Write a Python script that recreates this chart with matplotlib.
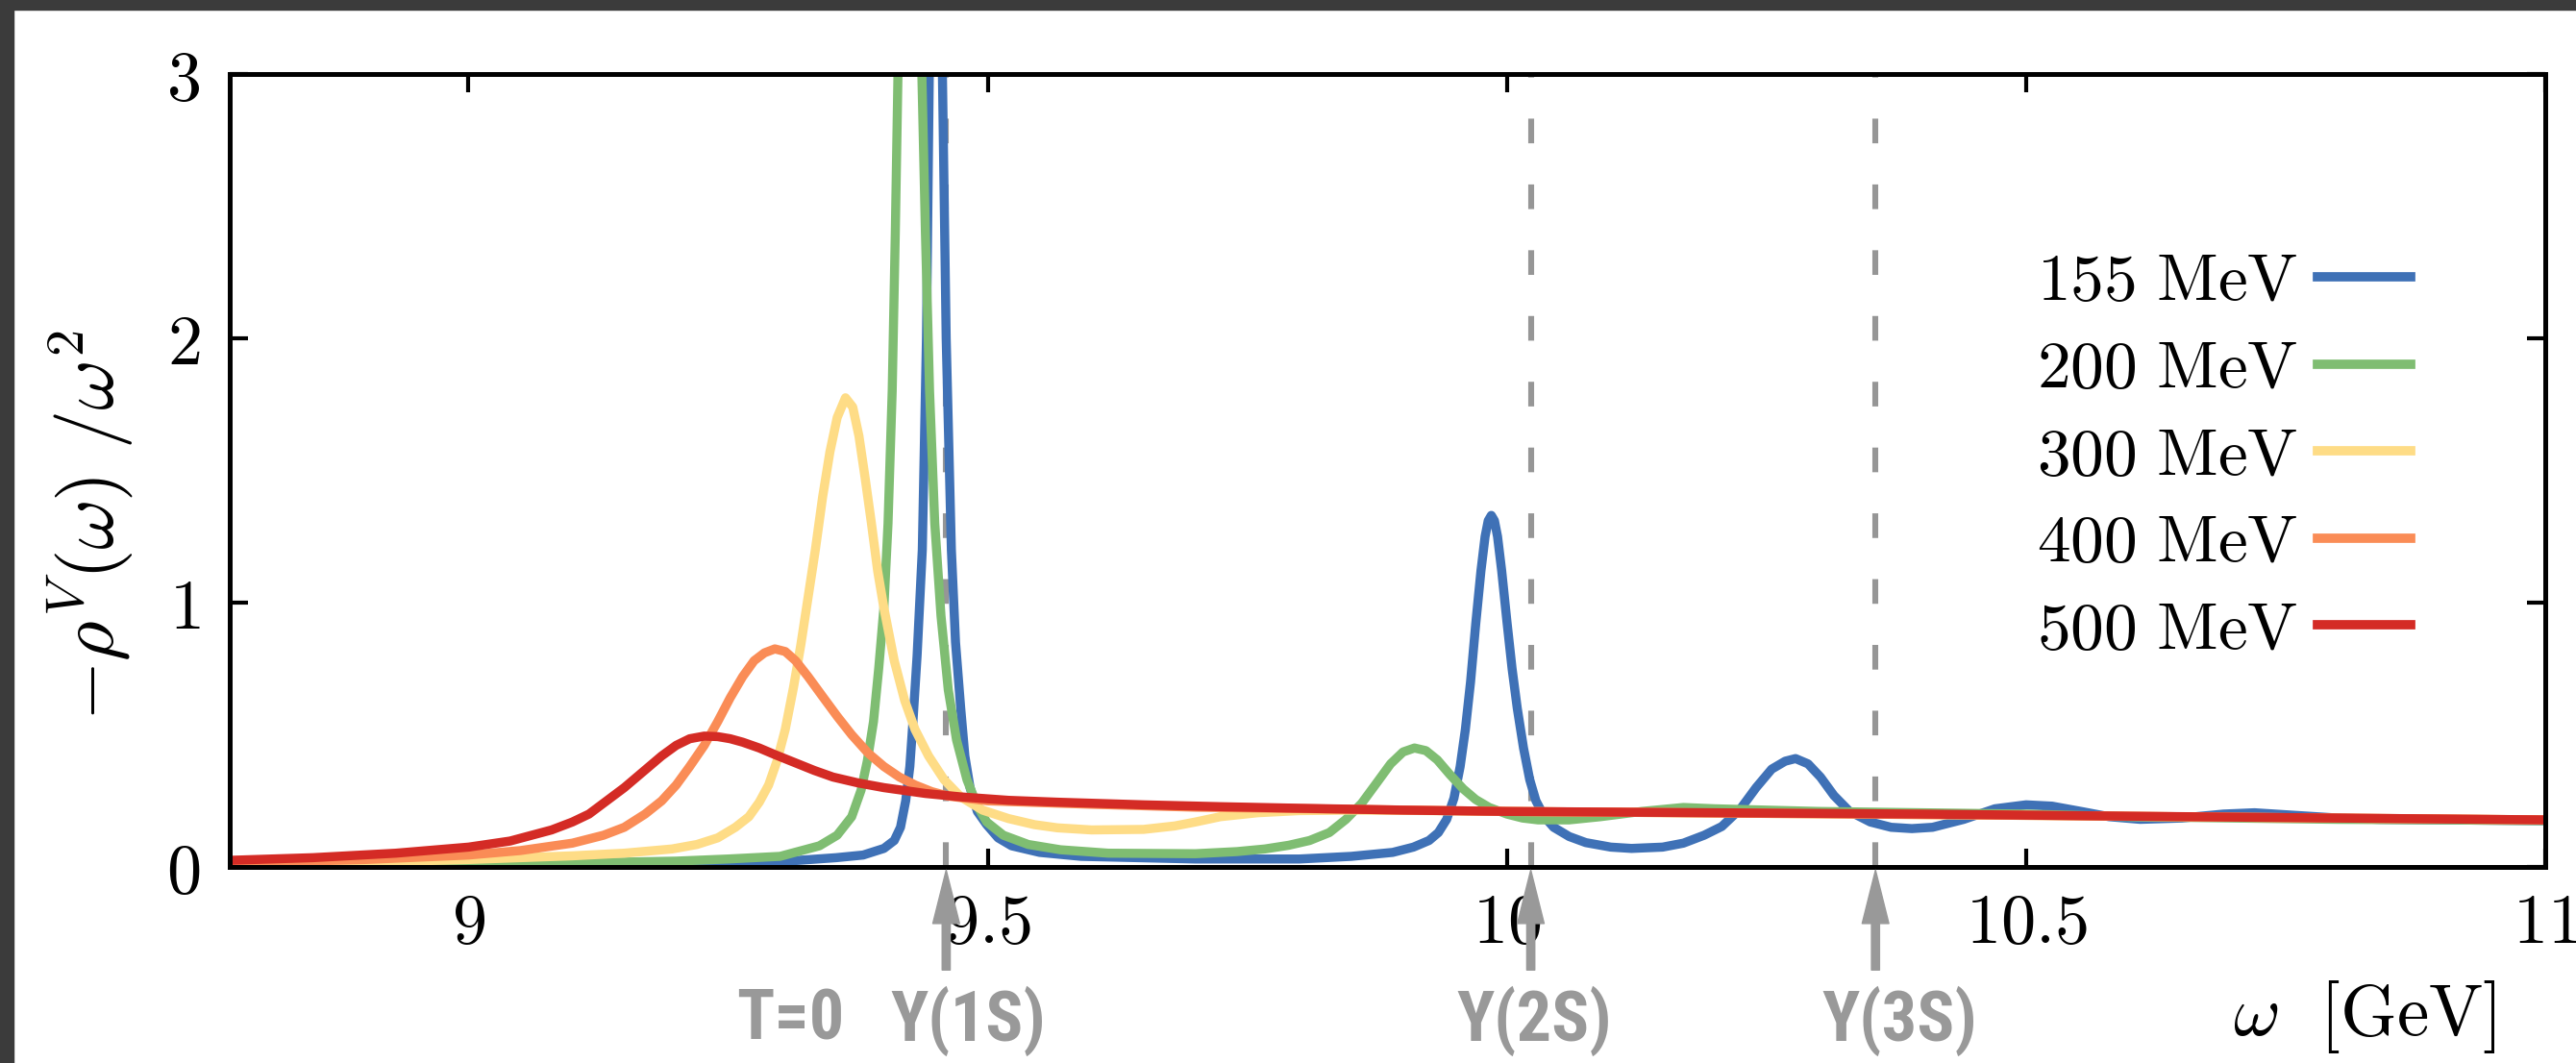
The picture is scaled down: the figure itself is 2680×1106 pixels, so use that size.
import matplotlib
matplotlib.use("Agg")
import matplotlib.pyplot as plt
import matplotlib.transforms as mtransforms
from matplotlib.patches import Rectangle

plt.rcParams['mathtext.fontset'] = 'cm'

# vector spectral function over omega^2, one curve per temperature
temps = ['155 MeV', '200 MeV', '300 MeV', '400 MeV', '500 MeV']
colors = ['#3f71b6', '#7fbd72', '#fedc86', '#fa8c56', '#d42b25']

w_155 = [8.77, 9.0, 9.2, 9.3, 9.354, 9.38, 9.40, 9.41, 9.416, 9.421, 9.425, 9.428,
         9.432, 9.437, 9.441, 9.444, 9.45, 9.456, 9.46, 9.465, 9.469, 9.474, 9.478,
         9.483, 9.49, 9.499, 9.51, 9.523, 9.55, 9.59, 9.7, 9.8, 9.85, 9.89, 9.91,
         9.925, 9.934, 9.942, 9.949, 9.955, 9.96, 9.965, 9.97, 9.975, 9.979, 9.982,
         9.985, 9.988, 9.991, 9.995, 10.0, 10.005, 10.01, 10.016, 10.022, 10.028,
         10.036, 10.045, 10.06, 10.076, 10.1, 10.12, 10.15, 10.17, 10.19, 10.207,
         10.225, 10.24, 10.255, 10.268, 10.278, 10.29, 10.302, 10.315, 10.33, 10.35,
         10.37, 10.39, 10.41, 10.44, 10.47, 10.50, 10.525, 10.553, 10.58, 10.61,
         10.65, 10.69, 10.72, 10.76, 10.8, 10.84, 10.9, 11.0]
v_155 = [0.004, 0.006, 0.012, 0.02, 0.035, 0.045, 0.07, 0.1, 0.15, 0.25, 0.38, 0.55,
         0.8, 1.2, 2.0, 3.1, 6.0, 3.1, 2.0, 1.2, 0.85, 0.6, 0.42,
         0.3, 0.21, 0.16, 0.11, 0.08, 0.055, 0.04, 0.03, 0.03, 0.04, 0.055, 0.075,
         0.1, 0.13, 0.18, 0.26, 0.38, 0.52, 0.7, 0.92, 1.12, 1.25, 1.31,
         1.33, 1.31, 1.25, 1.12, 0.93, 0.75, 0.6, 0.45, 0.33, 0.25,
         0.19, 0.15, 0.115, 0.092, 0.075, 0.07, 0.075, 0.09, 0.12, 0.153,
         0.22, 0.30, 0.37, 0.40, 0.41, 0.39, 0.34, 0.27, 0.21, 0.17,
         0.15, 0.145, 0.15, 0.18, 0.22, 0.235, 0.23, 0.21, 0.19, 0.18,
         0.185, 0.2, 0.205, 0.195, 0.185, 0.18, 0.178, 0.175]

w_200 = [8.77, 9.0, 9.1, 9.2, 9.25, 9.3, 9.338, 9.355, 9.369, 9.378, 9.384, 9.39,
         9.395, 9.40, 9.404, 9.408, 9.411, 9.414, 9.425, 9.436, 9.44, 9.444, 9.449,
         9.455, 9.462, 9.47, 9.48, 9.49, 9.499, 9.515, 9.539, 9.57, 9.616, 9.7, 9.74,
         9.767, 9.79, 9.81, 9.829, 9.845, 9.86, 9.875, 9.888, 9.9, 9.911, 9.922,
         9.933, 9.945, 9.958, 9.97, 9.983, 10.0, 10.015, 10.03, 10.06, 10.09, 10.13,
         10.17, 10.2, 10.25, 10.3, 10.4, 10.5, 10.6, 10.7, 10.8, 10.9, 11.0]
v_200 = [0.005, 0.01, 0.015, 0.022, 0.03, 0.04, 0.08, 0.12, 0.19, 0.29, 0.4, 0.55,
         0.75, 0.98, 1.3, 1.8, 2.4, 3.1, 5.0, 3.1, 2.4, 1.8, 1.3,
         0.95, 0.67, 0.48, 0.33, 0.23, 0.17, 0.12, 0.085, 0.065, 0.052, 0.05, 0.058,
         0.068, 0.082, 0.1, 0.13, 0.18, 0.24, 0.32, 0.39, 0.435, 0.45, 0.44,
         0.405, 0.35, 0.295, 0.255, 0.225, 0.2, 0.185, 0.178, 0.178, 0.19, 0.21,
         0.225, 0.22, 0.215, 0.21, 0.205, 0.2, 0.19, 0.185, 0.18, 0.178, 0.175]

w_300 = [8.77, 8.9, 9.0, 9.1, 9.15, 9.196, 9.22, 9.24, 9.257, 9.27, 9.28, 9.289,
         9.297, 9.305, 9.313, 9.32, 9.327, 9.334, 9.341, 9.348, 9.355, 9.363, 9.37,
         9.376, 9.382, 9.388, 9.394, 9.40, 9.41, 9.42, 9.43, 9.443, 9.458, 9.474,
         9.495, 9.52, 9.545, 9.567, 9.6, 9.65, 9.68, 9.7, 9.724, 9.76, 9.8, 9.85,
         9.9, 10.0, 10.5, 11.0]
v_300 = [0.008, 0.018, 0.028, 0.042, 0.052, 0.068, 0.085, 0.11, 0.15, 0.19, 0.245, 0.31,
         0.4, 0.52, 0.68, 0.84, 1.02, 1.2, 1.4, 1.57, 1.7, 1.775, 1.74,
         1.63, 1.47, 1.3, 1.12, 0.98, 0.78, 0.63, 0.52, 0.42, 0.33, 0.265,
         0.215, 0.183, 0.16, 0.148, 0.14, 0.142, 0.155, 0.17, 0.19, 0.205, 0.213, 0.215,
         0.214, 0.21, 0.195, 0.178]

w_400 = [8.77, 8.9, 9.0, 9.05, 9.1, 9.13, 9.15, 9.17, 9.186, 9.2, 9.213, 9.227,
         9.24, 9.252, 9.264, 9.275, 9.285, 9.295, 9.305, 9.315, 9.327, 9.34, 9.355,
         9.369, 9.385, 9.40, 9.415, 9.43, 9.446, 9.462, 9.5, 9.6, 9.7, 10.0, 10.5, 11.0]
v_400 = [0.015, 0.028, 0.045, 0.062, 0.09, 0.12, 0.15, 0.2, 0.25, 0.31, 0.38, 0.46,
         0.55, 0.64, 0.72, 0.78, 0.81, 0.825, 0.815, 0.78, 0.72, 0.65, 0.57,
         0.5, 0.43, 0.38, 0.34, 0.31, 0.285, 0.268, 0.25, 0.237, 0.226, 0.21, 0.195, 0.178]

w_500 = [8.77, 8.85, 8.93, 9.0, 9.04, 9.08, 9.10, 9.116, 9.133, 9.15, 9.168, 9.186,
         9.20, 9.213, 9.227, 9.24, 9.252, 9.264, 9.28, 9.295, 9.314, 9.333, 9.351,
         9.375, 9.40, 9.44, 9.474, 9.52, 9.567, 9.65, 9.724, 9.8, 9.9, 10.0, 10.2,
         10.4, 10.6, 10.8, 11.0]
v_500 = [0.025, 0.035, 0.052, 0.075, 0.098, 0.14, 0.17, 0.2, 0.25, 0.3, 0.36, 0.42,
         0.46, 0.485, 0.495, 0.493, 0.485, 0.472, 0.45, 0.425, 0.395, 0.365, 0.34,
         0.318, 0.30, 0.278, 0.265, 0.252, 0.245, 0.235, 0.228, 0.222, 0.215, 0.21, 0.205,
         0.2, 0.192, 0.185, 0.178]

omegas = [w_155, w_200, w_300, w_400, w_500]
values = [v_155, v_200, v_300, v_400, v_500]

# bottomonium vacuum masses [GeV]
upsilon_mass = [9.460, 10.023, 10.355]
upsilon_labels = ['Υ(1S)', 'Υ(2S)', 'Υ(3S)']

xticks = [9, 9.5, 10, 10.5, 11]
xticklabels = [r'$9$', r'$9.5$', r'$10$', r'$10.5$', r'$11$']
yticks = [0, 1, 2, 3]
yticklabels = [r'$0$', r'$1$', r'$2$', r'$3$']

fig = plt.figure(figsize=(26.8, 11.06), dpi=100)
# dark frame along top and left edge
fig.patches.append(Rectangle((0, 1 - 10/1106.), 1, 10/1106., transform=fig.transFigure,
                             color='#3b3b3b', zorder=0))
fig.patches.append(Rectangle((0, 0), 14/2680., 1, transform=fig.transFigure,
                             color='#3b3b3b', zorder=0))

ax = fig.add_axes([239/2680., 1 - 902/1106., (2648 - 239)/2680., (902 - 77)/1106.])

for m in upsilon_mass:
    ax.axvline(m, color='#969696', lw=4.4, dashes=(4.2, 7.0), zorder=1)

for w, v, c, t in zip(omegas, values, colors, temps):
    num, unit = t.split()
    ax.plot(w, v, color=c, lw=6.8, solid_joinstyle='round', zorder=2,
            label=r'$%s\ \mathrm{%s}$' % (num, unit))

ax.set_xlim(8.77, 11)
ax.set_ylim(0, 3)
ax.set_xticks(xticks)
ax.set_xticklabels(xticklabels)
ax.set_yticks(yticks)
ax.set_yticklabels(yticklabels)
ax.tick_params(direction='in', top=True, right=True, length=14, width=3,
               labelsize=52, color='black')
ax.tick_params(axis='x', pad=18)
ax.tick_params(axis='y', pad=22)
for s in ax.spines.values():
    s.set_linewidth(3.6)

ax.set_ylabel(r'$-\rho^V(\omega)\ /\omega^2$', fontsize=58)
ax.yaxis.set_label_coords(-0.041, 0.43)

ax.text(0.922, -0.14, r'$\omega\ \ [\mathrm{GeV}]$', transform=ax.transAxes,
        fontsize=54, ha='center', va='top')

leg = ax.legend(loc='upper right', bbox_to_anchor=(0.942, 0.779), frameon=False,
                markerfirst=False, fontsize=50, handlelength=1.4, handletextpad=0.3,
                labelspacing=0.34, borderpad=0, borderaxespad=0)
for h in leg.legend_handles:
    h.set_linewidth(7)

# arrows and labels under the axis
trans = mtransforms.blended_transform_factory(ax.transData, ax.transAxes)
gray = '#999999'
for m in upsilon_mass:
    ax.annotate('', xy=(m, -0.004), xytext=(m, -0.13), xycoords=trans, textcoords=trans,
                annotation_clip=False,
                arrowprops=dict(arrowstyle='simple,head_length=2.0,head_width=1.0,tail_width=0.3',
                                mutation_scale=20, color=gray, shrinkA=0, shrinkB=0))

lab_font = dict(family=['Roboto Condensed', 'Roboto', 'DejaVu Sans'], weight='bold',
                fontsize=52, color=gray, va='center', ha='center')
ax.text(9.310, -0.194, 'T=0', transform=trans, **lab_font)
ax.text(9.481, -0.194, upsilon_labels[0], transform=trans, **lab_font)
ax.text(10.026, -0.194, upsilon_labels[1], transform=trans, **lab_font)
ax.text(10.378, -0.194, upsilon_labels[2], transform=trans, **lab_font)

fig.savefig('out.png', dpi=100, facecolor='white')
